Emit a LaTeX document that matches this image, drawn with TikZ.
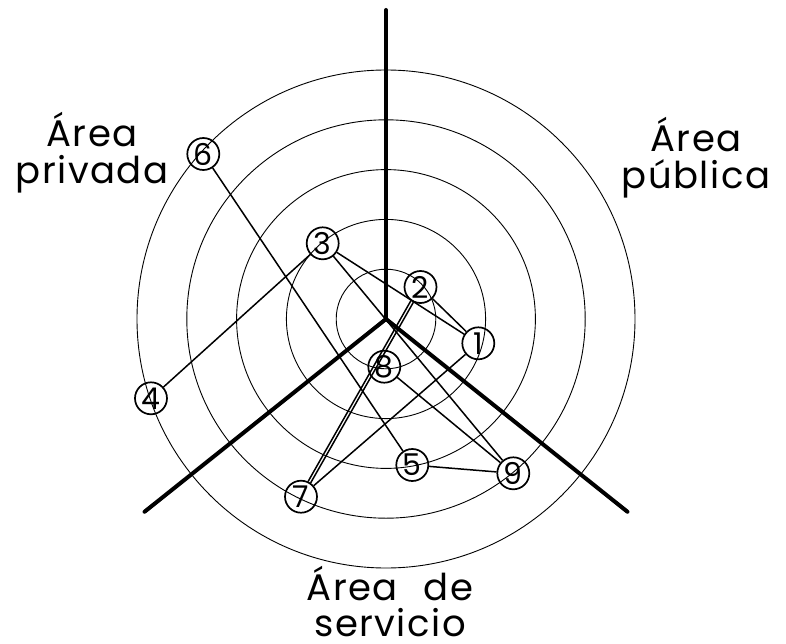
\documentclass[tikz,border=0pt]{standalone}
\usepackage{fontspec}
\setmainfont{Poppins}
\newfontfamily\areafont{Poppins}[LetterSpace=4.0]
\usetikzlibrary{calc}
\definecolor{Ink}{HTML}{000000}
\tikzset{
 ring/.style={draw=Ink,line width=0.9pt},
 axis/.style={draw=Ink,line width=4pt,line cap=round},
 zone/.style={circle,draw=Ink,line width=1.7pt,minimum size=32pt,inner sep=0pt,font=\fontsize{30}{30}\selectfont},
 link/.style={draw=Ink,line width=1.5pt},
 area/.style={align=center,inner sep=0pt,font=\areafont\fontsize{37}{37}\selectfont}
}
\begin{document}
\begin{tikzpicture}[x=1pt,y=1pt]
\useasboundingbox (-386,-324) rectangle (400,319);
\coordinate (o) at (0,0);
\coordinate (top) at (90:309);
\coordinate (left) at (218.6:309);
\coordinate (right) at (-38.6:309);
\foreach \r in {49.8,99.6,149.4,199.2,249} \draw[ring] (o) circle (\r);
\foreach \t in {top,left,right} \draw[axis] (o)--(\t);
\node[zone] (z6) at (-182.7,165) {6};
\node[zone] (z3) at (-63.3,75.7) {3};
\node[zone] (z2) at (34.5,32) {2};
\node[zone] (z1) at (92.3,-24.3) {1};
\node[zone] (z8) at (-1.7,-47.7) {8};
\node[zone] (z4) at (-235,-79.3) {4};
\node[zone] (z5) at (26.3,-146) {5};
\node[zone] (z9) at (127.3,-154.3) {9};
\node[zone] (z7) at (-85,-177.7) {7};
\node[area] (priv) at (-294,166) {Área\\privada};
\node[area] (publ) at (310,161) {Área\\pública};
\node[area,font=\areafont\fontsize{37}{35.5}\selectfont,anchor=south] (serv) at (4,-318) {Área\hspace{0.4em} de\\servicio};
\foreach \x/\y in {z6/z5,z3/z4,z3/z1,z3/z9,z2/z1,z1/z7,z8/z9,z5/z9} \draw[link] (\x)--(\y);
\draw[link] (z2.235)--(z7.65);
\draw[link] (z2.245)--(z7.55);
\end{tikzpicture}
\end{document}
